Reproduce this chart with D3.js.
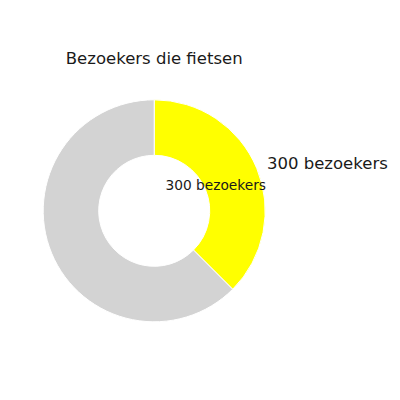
<!DOCTYPE html>
<html>
<head>
<meta charset="utf-8">
<script src="https://cdn.jsdelivr.net/npm/d3@7"></script>
<style>
  html, body { margin: 0; padding: 0; background: #fff; }
  svg { display: block; font-family: "DejaVu Sans", sans-serif; }
</style>
</head>
<body>
<svg id="chart" width="400" height="400"></svg>
<script>
const title = "Bezoekers die fietsen";
const categories = ["Fietsen", "Overig"];
const values = [300, 500];
const colors = ["#ffff00", "#d3d3d3"];
const outerLabels = ["300 bezoekers", ""];
const innerLabels = ["300 bezoekers", ""];

const svg = d3.select("#chart");
const cx = 154.2, cy = 210.8, R = 111, r = 55.5;

const pie = d3.pie().sort(null).value(d => d)(values);
const arc = d3.arc().innerRadius(r).outerRadius(R);

const g = svg.append("g").attr("transform", `translate(${cx},${cy})`);

g.selectAll("path").data(pie).join("path")
  .attr("d", arc)
  .attr("fill", (d, i) => colors[i])
  .attr("stroke", "#ffffff")
  .attr("stroke-width", 1);

function pt(d, f) {
  const a = (d.startAngle + d.endAngle) / 2;
  return [Math.sin(a) * R * f, -Math.cos(a) * R * f];
}

// outer labels
g.selectAll("text.outer").data(pie).join("text")
  .attr("class", "outer")
  .text((d, i) => outerLabels[i])
  .attr("x", d => pt(d, 1.1)[0])
  .attr("y", d => pt(d, 1.1)[1] + 5.2)
  .attr("text-anchor", d => pt(d, 1.1)[0] >= 0 ? "start" : "end")
  .attr("font-size", "16.5px")
  .attr("fill", "#1a1a1a");

// inner labels
g.selectAll("text.inner").data(pie).join("text")
  .attr("class", "inner")
  .text((d, i) => innerLabels[i])
  .attr("x", d => pt(d, 0.6)[0])
  .attr("y", d => pt(d, 0.6)[1] + 4.3)
  .attr("text-anchor", "middle")
  .attr("font-size", "13.75px")
  .attr("fill", "#1a1a1a");

svg.append("text")
  .attr("x", cx)
  .attr("y", 64.3)
  .attr("text-anchor", "middle")
  .attr("font-size", "16.5px")
  .attr("fill", "#1a1a1a")
  .text(title);
</script>
</body>
</html>
